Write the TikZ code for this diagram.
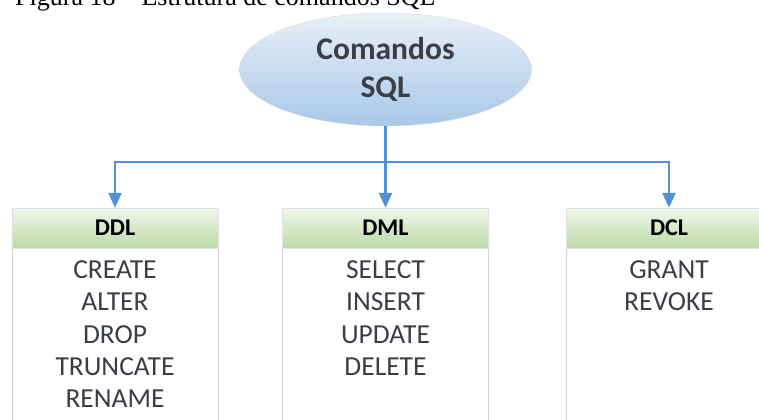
\documentclass[tikz,border=0pt]{standalone}
\usepackage{fontspec}
\setmainfont{Carlito}
\newfontfamily\capfont{Liberation Serif}
\usetikzlibrary{shapes.geometric,arrows.meta}

\definecolor{linkblue}{HTML}{5292D0}
\definecolor{skytop}{HTML}{E8EFF8}
\definecolor{skybot}{HTML}{A9C8E8}
\definecolor{leaftop}{HTML}{F0F7EC}
\definecolor{leafbot}{HTML}{BBDBA8}
\definecolor{inkgray}{HTML}{3A3F46}

\begin{document}
\begin{tikzpicture}
                \tikzset{x=1bp, y=-1bp}
                \tikzstyle{caption}=[anchor=base west, inner sep=0pt, font=\capfont\fontsize{26bp}{26bp}\selectfont]
                \tikzstyle{cmd}=[ellipse, draw=black!15, top color=skytop, bottom color=skybot, minimum width=292bp, minimum height=113bp, inner sep=0pt, align=center, text=inkgray, font=\fontsize{31.5bp}{38bp}\selectfont\bfseries]
                \tikzstyle{head}=[rectangle, draw=black!12, top color=leaftop, bottom color=leafbot, minimum width=206bp, minimum height=40bp, font=\fontsize{24bp}{24bp}\selectfont\bfseries]
                \tikzstyle{body}=[rectangle, draw=black!18, fill=white, anchor=north, minimum width=206bp, minimum height=200bp]
                \tikzstyle{item}=[anchor=base, inner sep=0pt, text=inkgray, font=\fontsize{27.5bp}{27.5bp}\selectfont]
                \tikzstyle{link}=[draw=linkblue, line width=2.6bp]
                \tikzstyle{arrow}=[link, -{Triangle[length=15bp, width=13bp]}]

                \useasboundingbox (0,0) rectangle (759,419);

                \draw (15, 5)       node[caption]   (cap)   {Figura 18 \textendash{} Estrutura de comandos SQL};

                \draw (385.5, 69.5) node[cmd]       (sql)   {Comandos\\SQL};

                \draw (115, 248)    node[body]      (ddlb)  {};
                \draw (385.5, 248)  node[body]      (dmlb)  {};
                \draw (669, 248)    node[body]      (dclb)  {};

                \draw (115, 228)    node[head]      (ddl)   {DDL};
                \draw (385.5, 228)  node[head]      (dml)   {DML};
                \draw (669, 228)    node[head]      (dcl)   {DCL};

                \draw (115, 278)    node[item]      (d1)    {CREATE};
                \draw (115, 310.5)  node[item]      (d2)    {ALTER};
                \draw (115, 343)    node[item]      (d3)    {DROP};
                \draw (115, 375)    node[item]      (d4)    {TRUNCATE};
                \draw (115, 407.5)  node[item]      (d5)    {RENAME};

                \draw (385.5, 278)  node[item]      (m1)    {SELECT};
                \draw (385.5, 310.5) node[item]     (m2)    {INSERT};
                \draw (385.5, 343)  node[item]      (m3)    {UPDATE};
                \draw (385.5, 375)  node[item]      (m4)    {DELETE};

                \draw (669, 278)    node[item]      (c1)    {GRANT};
                \draw (669, 310.5)  node[item]      (c2)    {REVOKE};

                \coordinate (fork) at (385.5, 162);
                \draw [link]        (sql.south) -- (fork);
                \draw [arrow]       (fork) -| (ddl.north);
                \draw [arrow]       (fork) -- (dml.north);
                \draw [arrow]       (fork) -| (dcl.north);
            \end{tikzpicture}
\end{document}
